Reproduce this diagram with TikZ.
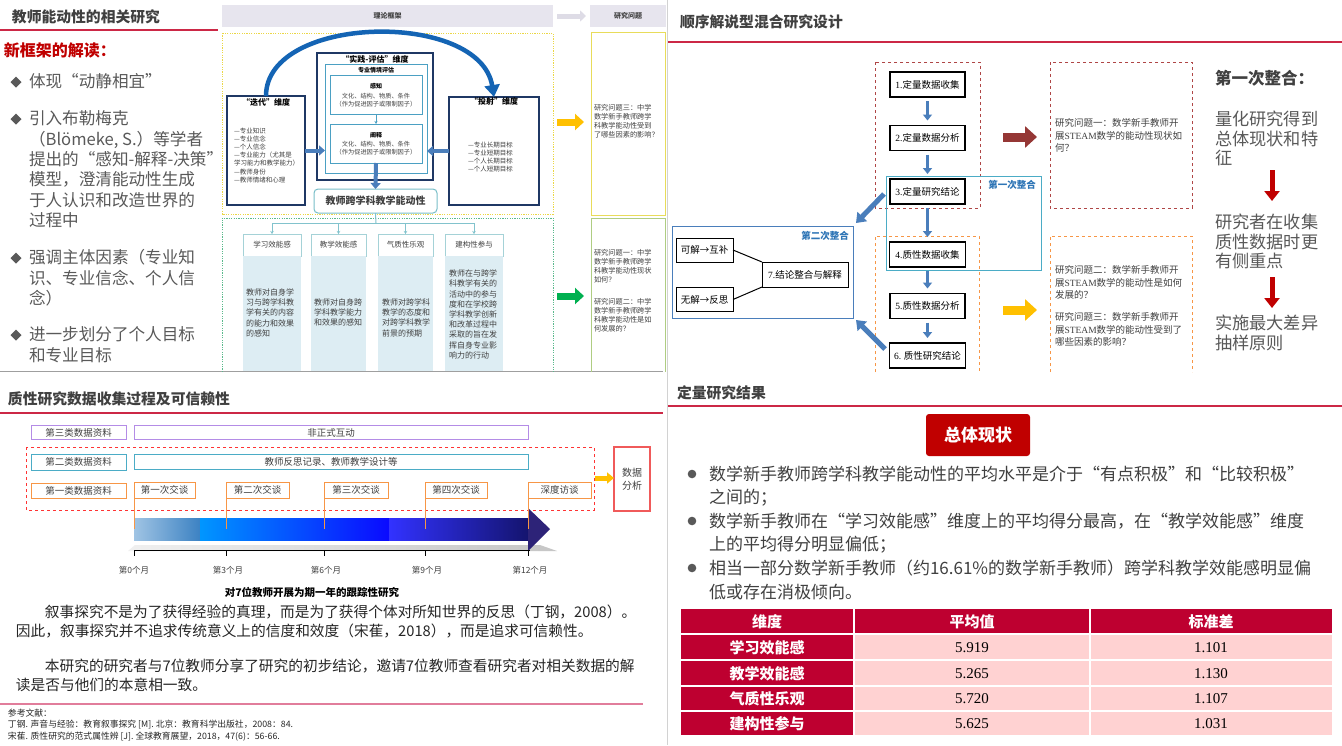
\documentclass[tikz,border=0pt]{standalone}
\usepackage{fontspec}
\setmainfont{Noto Sans CJK SC}
\newfontfamily\tnr{Liberation Serif}
\usetikzlibrary{arrows.meta,calc}
\newcommand{\myfs}[2]{\fontsize{#1}{#2}\selectfont}
\definecolor{tred}{RGB}{192,0,0}
\definecolor{tgray}{RGB}{89,89,89}
\definecolor{tdark}{RGB}{64,64,64}
\definecolor{hdrgray}{RGB}{231,229,238}
\definecolor{navyb}{RGB}{31,56,100}
\definecolor{lblue}{RGB}{75,160,195}
\definecolor{arrblue}{RGB}{74,126,187}
\definecolor{curveblue}{RGB}{20,100,180}
\definecolor{yeldot}{RGB}{235,215,70}
\definecolor{grndot}{RGB}{90,185,140}
\definecolor{treeline}{RGB}{130,195,205}
\definecolor{colfill}{RGB}{221,237,243}
\definecolor{hdrbord}{RGB}{165,210,215}
\definecolor{botteal}{RGB}{120,190,200}
\definecolor{amber}{RGB}{255,192,0}
\definecolor{ggreen}{RGB}{0,176,80}
\definecolor{qbox}{RGB}{232,220,90}
\definecolor{gbox}{RGB}{175,205,130}
\definecolor{lineRed}{RGB}{204,40,70}
\definecolor{dred}{RGB}{175,70,70}
\definecolor{darkarrow}{RGB}{149,55,53}
\definecolor{dorange}{RGB}{247,150,70}
\definecolor{bbox}{RGB}{75,172,198}
\definecolor{sbox}{RGB}{74,126,187}
\definecolor{labblue}{RGB}{46,117,182}
\definecolor{purp}{RGB}{180,140,230}
\definecolor{tabred}{RGB}{190,0,48}
\definecolor{tabpink}{RGB}{255,210,210}
\definecolor{pinkline}{RGB}{225,125,155}
\definecolor{redbox}{RGB}{240,90,90}
\definecolor{gaarrow}{RGB}{222,220,230}
\definecolor{ga}{RGB}{160,196,228}
\definecolor{gb}{RGB}{60,130,195}
\definecolor{gc}{RGB}{0,150,255}
\definecolor{gd}{RGB}{10,10,255}
\definecolor{ge}{RGB}{50,50,255}
\definecolor{gf}{RGB}{20,20,110}
\definecolor{ghead}{RGB}{45,35,120}
\definecolor{ptext}{RGB}{38,38,38}
\begin{document}
\begin{tikzpicture}[x=1pt,y=-1pt,
  every node/.style={inner sep=0pt,outer sep=0pt},
  lt/.style={anchor=west},
  ml/.style={anchor=north west,align=left},
  fbox/.style={draw=black,line width=1.3pt,fill=white,minimum height=25pt,font=\myfs{9.5}{11},text=black},
  farrow/.style={arrblue,line width=3.5pt,-{Triangle[width=9pt,length=6pt]}},
  kbox/.style={draw=black,line width=1pt,fill=white,minimum height=24pt,font=\myfs{9.5}{11},text=black},
  hbox/.style={draw=hdrbord,line width=1pt,fill=white,minimum height=22pt,font=\myfs{7.5}{9},text=tdark},
  coltext/.style={ml,font=\myfs{8}{10.2},text=tdark},
  rqtext/.style={ml,font=\myfs{7.2}{9},text=tdark},
  qtext/.style={ml,font=\myfs{9.5}{12.7},text=tdark},
  catbox/.style={line width=1pt,fill=white,minimum width=95pt,font=\myfs{9.5}{11},text=tdark},
  callout/.style={draw=dorange,line width=1pt,fill=white,minimum height=16pt,font=\myfs{9.5}{11},text=tdark},
  month/.style={font=\myfs{8.5}{10},text=tdark},
  para/.style={lt,font=\myfs{14.7}{18},text=ptext},
  refs/.style={lt,font=\myfs{8.8}{10},text=ptext},
  bul/.style={lt,font=\myfs{17}{20},text=tdark},
  tabhead/.style={font=\myfs{15}{17}\bfseries,text=white},
  tabnum/.style={font=\tnr\myfs{15}{17},text=black}
]
\useasboundingbox (0,0) rectangle (1342,745);
\fill[white] (0,0) rectangle (1342,745);

% panel dividers
\draw[gray!75,line width=0.8pt] (0,371.5) -- (663,371.5);
\draw[gray!35,line width=0.8pt] (667,0) -- (667,745);

% ================= TOP LEFT =================
\node[lt,font=\myfs{14.8}{18}\bfseries,text=tdark] (tlT) at (12,17) {教师能动性的相关研究};
\draw[lineRed,line width=1.2pt] (0,30) -- (218,30);
\node[lt,font=\myfs{16}{20}\bfseries,text=tred] (tlS) at (4,50) {新框架的解读：};
\foreach \yy in {82,119,258,335}{\fill[tgray] (10.5,\yy) -- (16,\yy-5.5) -- (21.5,\yy) -- (16,\yy+5.5) -- cycle;}
\node[ml,font=\myfs{16.6}{20.4},text=tgray] (b1) at (29,73.7) {体现“动静相宜”};
\node[ml,font=\myfs{16.6}{20.4},text=tgray] (b2) at (29,110.7) {引入布勒梅克\\（Blömeke, S.）等学者\\提出的“感知-解释-决策”\\模型，澄清能动性生成\\于人认识和改造世界的\\过程中};
\node[ml,font=\myfs{16.6}{20.5},text=tgray] (b3) at (29,249.7) {强调主体因素（专业知\\识、专业信念、个人信\\念）};
\node[ml,font=\myfs{16.6}{20.5},text=tgray] (b4) at (29,326.7) {进一步划分了个人目标\\和专业目标};

% framework headers
\fill[hdrgray] (222,5) rectangle (553,27);
\node[font=\myfs{7}{8}\bfseries,text=tdark] (tfH) at (387.5,16) {理论框架};
\fill[hdrgray] (590,5) rectangle (666,27);
\node[font=\myfs{7}{8}\bfseries,text=tdark] (rqH) at (628,16) {研究问题};
\coordinate (gaA) at (557,16);
\coordinate (gaB) at (586,16);
\draw[gaarrow,line width=5pt,-{Triangle[width=11pt,length=6pt]}] (gaA) -- (gaB);

\draw[yeldot,line width=1pt,dash pattern=on 1.2pt off 1.2pt] (222,33) rectangle (553,214);
\draw[grndot,line width=1pt,dash pattern=on 1.2pt off 1.2pt] (222,372) -- (222,218) -- (553,218) -- (553,372);

% framework boxes
\node[draw=navyb,line width=1.1pt,fill=white,minimum width=78pt,minimum height=109pt] (itB) at (266,150.5) {};
\node[draw=navyb,line width=1.1pt,fill=white,minimum width=90pt,minimum height=108pt] (tsB) at (494,151) {};
\node[draw=navyb,line width=1.3pt,fill=white,minimum width=116pt,minimum height=127pt] (ctO) at (375,116.5) {};
\node[draw=lblue,line width=1pt,minimum width=102pt,minimum height=109pt] (ctI) at (376,118.5) {};
\node[draw=lblue,line width=1pt,fill=white,minimum width=92pt,minimum height=39pt] (gzB) at (376,94.5) {};
\node[draw=lblue,line width=1pt,fill=white,minimum width=92pt,minimum height=39pt] (jsB) at (376,143.5) {};
\node[draw=botteal,line width=1pt,fill=white,rounded corners=4pt,minimum width=123pt,minimum height=24pt,font=\myfs{10}{12}\bfseries,text=tdark] (botB) at (375.5,201) {教师跨学科教学能动性};

\draw[curveblue,line width=4.5pt,-{Triangle[width=15pt,length=12pt]}] (itB.north) .. controls (266,14) and (480,10) .. (tsB.north);
\draw[arrblue,line width=4pt,-{Triangle[width=10pt,length=6pt]}] (itB.east) -- (itB.east -| ctI.west);
\draw[arrblue,line width=4pt,-{Triangle[width=10pt,length=6pt]}] (tsB.west) -- (tsB.west -| ctI.east);
\draw[arrblue,line width=4pt,-{Triangle[width=10pt,length=6pt]}] (jsB.south) -- (botB.north);
\draw[lblue,line width=0.8pt,-{Stealth[length=3pt,width=3pt]}] (gzB.south) -- (jsB.north);

\node[font=\myfs{8}{9}\bfseries,text=black] (itT) at (266,102) {“迭代”维度};
\node[ml,font=\myfs{6.5}{8.2},text=tdark] (itL) at (234,127.7) {—专业知识\\—专业信念\\—个人信念\\—专业能力（尤其是\\学习能力和教学能力）\\—教师身份\\—教师情绪和心理};
\node[font=\myfs{8}{9}\bfseries,text=black] (tsT) at (494,101) {“投射”维度};
\node[ml,font=\myfs{6.5}{8.1},text=tdark] (tsL) at (468,141.7) {—专业长期目标\\—专业短期目标\\—个人长期目标\\—个人短期目标};
\node[font=\myfs{8}{9}\bfseries,text=black] (ctT) at (375,59) {“实践-评估”维度};
\node[font=\myfs{6}{7}\bfseries,text=black] (ctS) at (376,70) {专业情境评估};
\node[font=\myfs{6}{7}\bfseries,text=black] (gzT) at (376,86) {感知};
\node[font=\myfs{6.2}{7},text=tdark] (gz1) at (376,96) {文化、结构、物质、条件};
\node[font=\myfs{6.2}{7},text=tdark] (gz2) at (376,104) {（作为促进因子或限制因子）};
\node[font=\myfs{6}{7}\bfseries,text=black] (jsT) at (376,135) {阐释};
\node[font=\myfs{6.2}{7},text=tdark] (js1) at (376,144.5) {文化、结构、物质、条件};
\node[font=\myfs{6.2}{7},text=tdark] (js2) at (376,152.5) {（作为促进因子或限制因子）};

% tree
\coordinate (tj) at (376,223);
\node[hbox,minimum width=58pt] (hb1) at (272,245) {学习效能感};
\node[hbox,minimum width=55pt] (hb2) at (338.5,245) {教学效能感};
\node[hbox,minimum width=55pt] (hb3) at (405.5,245) {气质性乐观};
\node[hbox,minimum width=58pt] (hb4) at (474,245) {建构性参与};
\draw[treeline,line width=1pt] (botB.south) -- (tj);
\draw[treeline,line width=1pt] (hb1.north |- tj) -- (hb4.north |- tj);
\foreach \h in {hb1,hb2,hb3,hb4}{\draw[treeline,line width=1pt,-{Stealth[length=3pt,width=3.5pt]}] (\h.north |- tj) -- (\h.north);}
\fill[colfill] (243,256) rectangle (301,371);
\fill[colfill] (311,256) rectangle (366,371);
\fill[colfill] (378,256) rectangle (433,371);
\fill[colfill] (445,256) rectangle (503,371);
\node[coltext] (ct1) at (246,288.7) {教师对自身学\\习与跨学科教\\学有关的内容\\的能力和效果\\的感知};
\node[coltext] (ct2) at (314,298.7) {教师对自身跨\\学科教学能力\\和效果的感知};
\node[coltext] (ct3) at (382,298.7) {教师对跨学科\\教学的态度和\\对跨学科教学\\前景的预期};
\node[coltext] (ct4) at (449,270) {教师在与跨学\\科教学有关的\\活动中的参与\\度和在学校跨\\学科教学创新\\和改革过程中\\采取的旨在发\\挥自身专业影\\响力的行动};

% research questions column
\draw[qbox,line width=1pt] (591,32) rectangle (665.5,215);
\draw[gbox,line width=1pt] (591,372) -- (591,218) -- (665.5,218) -- (665.5,372);
\node[rqtext] (rq3) at (594,104.5) {研究问题三：中学\\数学新手教师跨学\\科教学能动性受到\\了哪些因素的影响？};
\node[rqtext] (rq1) at (594,249) {研究问题一：中学\\数学新手教师跨学\\科教学能动性现状\\如何？};
\node[rqtext] (rq2) at (594,298) {研究问题二：中学\\数学新手教师跨学\\科教学能动性是如\\何发展的？};
\coordinate (oaA) at (557,122);
\coordinate (gaC) at (557,296);
\draw[amber,line width=7pt,-{Triangle[width=16pt,length=9pt]}] (oaA) -- ($(oaA)+(27,0)$);
\draw[ggreen,line width=7pt,-{Triangle[width=16pt,length=9pt]}] (gaC) -- ($(gaC)+(27,0)$);

% ================= TOP RIGHT =================
\node[lt,font=\myfs{14.8}{18}\bfseries,text=tdark] (trT) at (680,22) {顺序解说型混合研究设计};
\draw[lineRed,line width=1.2pt] (668,42) -- (1342,42);

\draw[dred,line width=1pt,dashed] (875,62) rectangle (980,208);
\draw[dorange,line width=1pt,dashed] (875,372) -- (875,236) -- (979,236) -- (979,372);
\draw[bbox,line width=1pt] (886,176) rectangle (1041,270);
\node[font=\myfs{9.5}{11}\bfseries,text=labblue] (l1) at (1012,185) {第一次整合};

\node[fbox,minimum width=75pt] (f1) at (927.5,84.5) {{\tnr 1.}定量数据收集};
\node[fbox,minimum width=75pt] (f2) at (927.5,138) {{\tnr 2.}定量数据分析};
\node[fbox,minimum width=75pt] (f3) at (927.5,191.5) {{\tnr 3.}定量研究结论};
\node[fbox,minimum width=76pt] (f4) at (927.5,254.5) {{\tnr 4.}质性数据收集};
\node[fbox,minimum width=75pt] (f5) at (927.5,306) {{\tnr 5.}质性数据分析};
\node[fbox,minimum width=76pt] (f6) at (927.5,355.5) {{\tnr 6.} 质性研究结论};
\draw[farrow] ([yshift=-4pt]f1.south) -- ([yshift=5pt]f2.north);
\draw[farrow] ([yshift=-4pt]f2.south) -- ([yshift=5pt]f3.north);
\draw[farrow] ([yshift=-4pt]f3.south) -- ([yshift=5pt]f4.north);
\draw[farrow] ([yshift=-4pt]f4.south) -- ([yshift=5pt]f5.north);
\draw[farrow] ([yshift=-4pt]f5.south) -- ([yshift=5pt]f6.north);

\draw[sbox,line width=1pt] (672,226) rectangle (853,318);
\node[font=\myfs{9.5}{11}\bfseries,text=labblue] (l2) at (825,236) {第二次整合};
\node[kbox,minimum width=57pt] (k1) at (704.5,250) {可解→互补};
\node[kbox,minimum width=57pt] (k2) at (704.5,299.5) {无解→反思};
\node[kbox,minimum width=86pt,minimum height=25pt] (k7) at (805,274.5) {{\tnr 7.}结论整合与解释};
\draw[black,line width=1pt] (k1.east) -- (k7.north west);
\draw[black,line width=1pt] (k2.east) -- (k7.south west);
\coordinate (d3s) at (884,194);
\coordinate (d3e) at (856,223);
\coordinate (d6s) at (885,349);
\coordinate (d6e) at (856,320);
\draw[arrblue,line width=5pt,-{Triangle[width=13pt,length=9pt]}] (d3s) -- (d3e);
\draw[arrblue,line width=5pt,-{Triangle[width=13pt,length=9pt]}] (d6s) -- (d6e);

\coordinate (ra1) at (1003,137);
\coordinate (ra2) at (1003,310);
\draw[darkarrow,line width=9pt,-{Triangle[width=21pt,length=12pt]}] (ra1) -- ($(ra1)+(34,0)$);
\draw[amber,line width=9pt,-{Triangle[width=21pt,length=12pt]}] (ra2) -- ($(ra2)+(34,0)$);

\draw[dred,line width=1pt,dashed] (1050,62) rectangle (1192,208);
\draw[dorange,line width=1pt,dashed] (1050,372) -- (1050,236) -- (1192,236) -- (1192,372);
\node[qtext] (q1) at (1055,118.3) {研究问题一：数学新手教师开\\展{\tnr STEAM}数学的能动性现状如\\何？};
\node[qtext] (q2) at (1055,265.3) {研究问题二：数学新手教师开\\展{\tnr STEAM}数学的能动性是如何\\发展的？};
\node[qtext] (q3) at (1055,312.3) {研究问题三：数学新手教师开\\展{\tnr STEAM}数学的能动性受到了\\哪些因素的影响？};

\node[lt,font=\myfs{16.5}{19}\bfseries,text=tdark] (fi) at (1215,78) {第一次整合：};
\node[ml,font=\myfs{17.2}{19.5},text=tgray] (tx1) at (1215,111.4) {量化研究得到\\总体现状和特\\征};
\node[ml,font=\myfs{17.2}{19.5},text=tgray] (tx2) at (1215,214.4) {研究者在收集\\质性数据时更\\有侧重点};
\node[ml,font=\myfs{17.2}{19.5},text=tgray] (tx3) at (1215,315.4) {实施最大差异\\抽样原则};
\coordinate (rr1) at (1272,170);
\coordinate (rr2) at (1272,277);
\draw[tred,line width=5pt,-{Triangle[width=15pt,length=10pt]}] (rr1) -- ($(rr1)+(0,31)$);
\draw[tred,line width=5pt,-{Triangle[width=15pt,length=10pt]}] (rr2) -- ($(rr2)+(0,31)$);

% ================= BOTTOM LEFT =================
\node[lt,font=\myfs{14.8}{18}\bfseries,text=tdark] (blT) at (8,399) {质性研究数据收集过程及可信赖性};
\draw[lineRed,line width=1.2pt] (0,413) -- (663,413);

\draw[red!80,line width=1pt,dashed] (26,447) rectangle (594,510);
\node[catbox,draw=purp,minimum height=14pt] (c3) at (78.5,432.5) {第三类数据资料};
\node[catbox,draw=purp,minimum height=14pt,minimum width=394pt] (nf) at (331,432.5) {非正式互动};
\node[catbox,draw=bbox,minimum height=16pt] (c2) at (78.5,462) {第二类数据资料};
\node[catbox,draw=bbox,minimum height=15pt,minimum width=394pt] (tr) at (331,461.5) {教师反思记录、教师教学设计等};
\node[catbox,draw=dorange,minimum height=15pt] (c1) at (78.5,490.5) {第一类数据资料};

% gradient bar
\shade[left color=gray!12,right color=gray!45] (128,551) -- (135,545) -- (540,545) -- (557,551) -- cycle;
\shade[left color=ga,right color=gb] (134,518) rectangle (200,540);
\shade[left color=gc,right color=gd] (200,518) rectangle (389,540);
\shade[left color=ge,right color=gf] (389,518) rectangle (528.5,540);
\fill[ghead] (528,508) -- (550,529) -- (528,551) -- cycle;
\draw[black,line width=0.8pt] (134,550) -- (530,550);
\foreach \xx in {134,226,324,425,528}{\draw[black,line width=0.8pt] (\xx,550) -- (\xx,556);}

\node[callout,minimum width=61pt] (t1) at (164.5,490) {第一次交谈};
\node[callout,minimum width=63pt] (t2) at (257.5,490) {第二次交谈};
\node[callout,minimum width=64pt] (t3) at (356,490) {第三次交谈};
\node[callout,minimum width=62pt] (t4) at (456,490) {第四次交谈};
\node[callout,minimum width=63pt] (t5) at (559.5,490) {深度访谈};
\foreach \t in {t1,t2,t3,t4,t5}{\draw[dorange,line width=1pt] (\t.south west) -- ++(0,31);}

\node[draw=redbox,line width=1.2pt,minimum width=36pt,minimum height=64pt,align=center,font=\myfs{10}{12.5},text=tdark] (da) at (632,479) {数据\\分析};
\coordinate (yaA) at (595,478);
\draw[amber,line width=5pt,-{Triangle[width=11pt,length=7pt]}] (yaA) -- (yaA -| da.west);

\node[month] (m0) at (134,570) {第0个月};
\node[month] (m3) at (228,570) {第3个月};
\node[month] (m6) at (326,570) {第6个月};
\node[month] (m9) at (427,570) {第9个月};
\node[month] (m12) at (530,570) {第12个月};
\node[font=\myfs{10.5}{12}\bfseries,text=black] (cap) at (312,592) {对7位教师开展为期一年的跟踪性研究};

\node[para] (p1) at (45,612) {叙事探究不是为了获得经验的真理，而是为了获得个体对所知世界的反思（丁钢，2008）。};
\node[para] (p2) at (16,631) {因此，叙事探究并不追求传统意义上的信度和效度（宋萑，2018），而是追求可信赖性。};
\node[para] (p3) at (45,666) {本研究的研究者与7位教师分享了研究的初步结论，邀请7位教师查看研究者对相关数据的解};
\node[para] (p4) at (16,685) {读是否与他们的本意相一致。};
\draw[pinkline,line width=1.5pt] (0,704) -- (643,704);
\node[refs] (r0) at (8,713) {参考文献：};
\node[refs] (r1) at (8,725) {丁钢. 声音与经验：教育叙事探究 [M]. 北京：教育科学出版社，2008：84.};
\node[refs] (r2) at (8,737) {宋萑. 质性研究的范式属性辨 [J]. 全球教育展望，2018，47(6)：56-66.};

% ================= BOTTOM RIGHT =================
\node[lt,font=\myfs{14.8}{18}\bfseries,text=tdark] (brT) at (677,393) {定量研究结果};
\draw[lineRed,line width=1.5pt] (668,406) -- (1342,406);
\node[fill=tred,rounded corners=3pt,minimum width=104pt,minimum height=42pt,font=\myfs{17}{19}\bfseries,text=white] (zt) at (978,435) {总体现状};

\foreach \yy in {474,521,568}{\fill[tgray] (692,\yy) circle (4.3pt);}
\node[bul] (s1) at (709,474) {数学新手教师跨学科教学能动性的平均水平是介于“有点积极”和“比较积极”};
\node[bul] (s2) at (709,498) {之间的；};
\node[bul] (s3) at (709,521) {数学新手教师在“学习效能感”维度上的平均得分最高，在“教学效能感”维度};
\node[bul] (s4) at (709,545) {上的平均得分明显偏低；};
\node[bul] (s5) at (709,568) {相当一部分数学新手教师（约16.61\%的数学新手教师）跨学科教学效能感明显偏};
\node[bul] (s6) at (709,592) {低或存在消极倾向。};

% table
\fill[tabred] (681,609) rectangle (853,633);
\fill[tabred] (855,609) rectangle (1089,633);
\fill[tabred] (1091,609) rectangle (1332,633);
\foreach \ya/\yb in {635/659,661/685,687/710,712/735}{
  \fill[tabred] (681,\ya) rectangle (853,\yb);
  \fill[tabpink] (855,\ya) rectangle (1089,\yb);
  \fill[tabpink] (1091,\ya) rectangle (1332,\yb);
}
\node[tabhead] (h1) at (767,622) {维度};
\node[tabhead] (h2) at (972,622) {平均值};
\node[tabhead] (h3) at (1211,622) {标准差};
\node[tabhead] (a1) at (767,648) {学习效能感};
\node[tabhead] (a2) at (767,674) {教学效能感};
\node[tabhead] (a3) at (767,699) {气质性乐观};
\node[tabhead] (a4) at (767,724) {建构性参与};
\node[tabnum] (v1) at (972,648) {5.919};
\node[tabnum] (v2) at (972,674) {5.265};
\node[tabnum] (v3) at (972,699) {5.720};
\node[tabnum] (v4) at (972,724) {5.625};
\node[tabnum] (w1) at (1211,648) {1.101};
\node[tabnum] (w2) at (1211,674) {1.130};
\node[tabnum] (w3) at (1211,699) {1.107};
\node[tabnum] (w4) at (1211,724) {1.031};
\end{tikzpicture}
\end{document}
